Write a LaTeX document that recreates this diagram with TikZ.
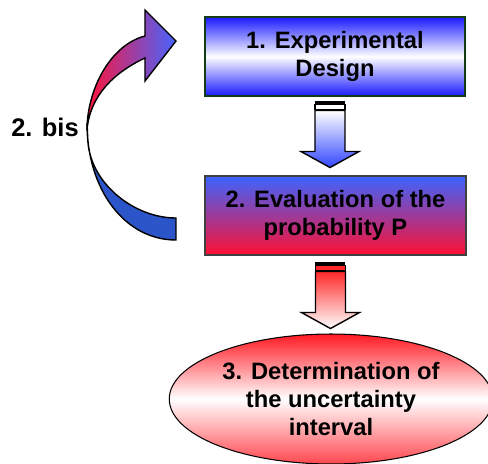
\documentclass[tikz,border=0pt]{standalone}
\usepackage{fontspec}
\setsansfont{Liberation Sans}
\usetikzlibrary{shapes.geometric, calc}
\definecolor{boxblue}{RGB}{25,25,255}
\definecolor{evalblue}{RGB}{60,100,255}
\definecolor{evalred}{RGB}{255,15,50}
\definecolor{ellred}{RGB}{255,25,35}
\definecolor{loopblue}{RGB}{43,85,200}
\definecolor{looppink}{RGB}{255,20,60}
\definecolor{loopviolet}{RGB}{70,100,255}
\definecolor{framegreen}{RGB}{20,60,20}
\definecolor{arrowblue}{RGB}{50,70,255}
\definecolor{arrowred}{RGB}{255,40,40}

\begin{document}
\begin{tikzpicture}[x=0.02cm, y=-0.02cm,
    stagebox/.style={draw, line width=0.6pt, minimum width=5.2cm,
      minimum height=1.58cm, align=center},
    stagetext/.style={font=\sffamily\bfseries\fontsize{13.5}{16}\selectfont,
      text=black},
    blockarrow/.style={draw=black, line width=0.8pt, line join=miter},
    stripe/.style={draw=black, line width=0.6pt},
    loopband/.style={draw=black, line width=0.8pt, line join=miter} ]
    \useasboundingbox (0,0) rectangle (488,464);

    % Stages
    \node[stagebox, stagetext, draw=framegreen, top color=boxblue,
    bottom color=boxblue, middle color=white] (exp) at (335,56.5)
    {1. Experimental\\Design};
    \node[stagebox, stagetext, draw=black!75, minimum width=5.22cm,
    top color=evalblue, bottom color=evalred] (eval) at (335.5,215.5)
    {2. Evaluation of the\\probability P};
    \node[ellipse, draw, line width=0.6pt, minimum width=6.26cm,
    minimum height=2.6cm, top color=ellred, bottom color=ellred!80!white,
    middle color=white, align=center, stagetext] (interval) at (331,399)
    {3. Determination of\\the uncertainty\\interval};

    % Striped arrow from stage 1 to stage 2
    \begin{scope}[shift={(exp.south)}]
      \fill[black] (-20,4) rectangle (10,7);
      \draw[stripe, fill=white] (-20,8) rectangle (10,13);
      \draw[blockarrow, top color=white, bottom color=arrowblue] (-20,14) --
      (10,14) -- (10,55) -- (24,55) -- (-5,71) -- (-34,55) -- (-20,55) --
      cycle;
    \end{scope}

    % Striped arrow from stage 2 to stage 3
    \begin{scope}[shift={(eval.south)}]
      \fill[black] (-20,6) rectangle (10,9);
      \draw[stripe, fill=arrowred] (-20,10) rectangle (10,15);
      \draw[blockarrow, top color=arrowred, bottom color=white] (-20,16) --
      (10,16) -- (10,57) -- (24,57) -- (-5,73) -- (-34,57) -- (-20,57) --
      cycle;
    \end{scope}

    % Loop back arrow
    \draw[loopband, fill=loopblue] (87,123) .. controls (87,190) and
    (125,240) .. (176,240) -- (176,218) .. controls (135,218) and (92,185) ..
    (88,143) -- cycle;
    \draw[loopband, left color=looppink, right color=loopviolet] (87,130) ..
    controls (87,90) and (110,45) .. (145,36) -- (145,10) -- (176,41) --
    (145,81) -- (145,58) .. controls (115,72) and (90,95) .. (87,130) -- cycle;
    \node[font=\sffamily\bfseries\fontsize{14.5}{16}\selectfont] (bis) at
    (45,127) {2. bis};
\end{tikzpicture}
\end{document}
